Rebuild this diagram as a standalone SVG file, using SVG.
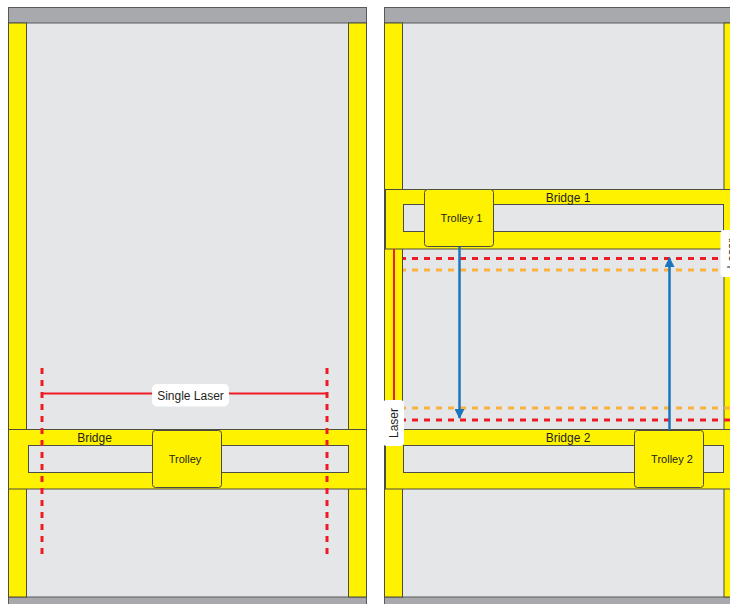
<svg xmlns="http://www.w3.org/2000/svg" width="730" height="604" viewBox="0 0 730 604">
<defs>
<style>
.bg{fill:#e5e6e8;stroke:#6d6e71;stroke-width:1}
.bar{fill:#a7a9ac;stroke:#58595b;stroke-width:1}
.y{fill:#fff200;stroke:#4d4d3f;stroke-width:1}
.in{fill:#e5e6e8;stroke:#4d4d4d;stroke-width:1}
.tr{fill:#fff200;stroke:#4d4d3f;stroke-width:1}
.t{font-family:"Liberation Sans",Arial,sans-serif;fill:#231f20;text-anchor:middle}
.rd{stroke:#ed1c24;stroke-width:3;stroke-dasharray:6 6;fill:none}
.od{stroke:#fbb040;stroke-width:3;stroke-dasharray:6 6;fill:none}
.rs{stroke:#ed1c24;stroke-width:2;fill:none}
.bl{stroke:#1b75bc;stroke-width:2.5;fill:none}
.lbl{fill:#ffffff}
</style>
<marker id="ah" viewBox="0 0 10 10" refX="9" refY="5" markerWidth="4" markerHeight="4" orient="auto" markerUnits="strokeWidth">
<path d="M0,0 L10,5 L0,10 z" fill="#1b75bc"/>
</marker>
</defs>

<g id="left-panel">
<rect class="bg" x="8.5" y="7.5" width="358" height="597"/>
<rect class="bar" x="8.5" y="7.5" width="358" height="15.5"/>
<rect class="bar" x="8.5" y="597" width="358" height="8"/>
<rect class="y" x="8.5" y="23" width="18" height="574"/>
<rect class="y" x="348.5" y="23" width="18" height="574"/>
</g>

<g id="bridge">
<rect class="y" x="8.5" y="429.5" width="358" height="59.5"/>
<rect class="in" x="28.5" y="445.5" width="320" height="27"/>
<text class="t" x="94.5" y="441.5" font-size="12">Bridge</text>
</g>

<g id="trolley">
<rect class="tr" x="152.5" y="430.5" width="69" height="57" rx="3"/>
<text class="t" x="185" y="463" font-size="11">Trolley</text>
</g>

<g id="right-panel">
<rect class="bg" x="384.5" y="7.5" width="358" height="597"/>
<rect class="bar" x="384.5" y="7.5" width="358" height="15.5"/>
<rect class="bar" x="384.5" y="597" width="358" height="8"/>
<rect class="y" x="384.5" y="23" width="18" height="574"/>
<rect class="y" x="724" y="23" width="18" height="574"/>
</g>

<g id="bridge1">
<rect class="y" x="385.5" y="189.5" width="358" height="59.5"/>
<rect class="in" x="403.5" y="204.5" width="320" height="27"/>
<text class="t" x="568" y="201.5" font-size="12">Bridge 1</text>
</g>

<g id="bridge2">
<rect class="y" x="385.5" y="429.5" width="358" height="59.5"/>
<rect class="in" x="403.5" y="445.5" width="320" height="27"/>
<text class="t" x="568" y="441.5" font-size="12">Bridge 2</text>
</g>

<g id="trolley1">
<rect class="tr" x="424.5" y="189.5" width="69" height="57" rx="3"/>
<text class="t" x="461.5" y="222" font-size="11">Trolley 1</text>
</g>

<g id="trolley2">
<rect class="tr" x="634.5" y="430.5" width="69" height="57" rx="3"/>
<text class="t" x="672" y="463" font-size="11">Trolley 2</text>
</g>

<g id="connectors">
<line class="rd" x1="42" y1="368" x2="42" y2="554"/>
<line class="rd" x1="327" y1="368" x2="327" y2="554"/>
<line class="rs" x1="42" y1="393.5" x2="327" y2="393.5"/>
<line class="rs" x1="394" y1="249" x2="394" y2="420"/>
<line class="rd" x1="403" y1="258.5" x2="730" y2="258.5" stroke-dashoffset="3"/>
<line class="od" x1="403" y1="270" x2="730" y2="270" stroke-dashoffset="3"/>
<line class="od" x1="403" y1="408" x2="730" y2="408" stroke-dashoffset="3"/>
<line class="rd" x1="403" y1="420" x2="730" y2="420" stroke-dashoffset="3"/>
<line class="bl" x1="459.5" y1="247" x2="459.5" y2="418" marker-end="url(#ah)"/>
<line class="bl" x1="669.5" y1="430" x2="669.5" y2="258" marker-end="url(#ah)"/>
</g>

<g id="label-single-laser">
<rect class="lbl" x="152" y="384" width="77" height="22.5" rx="5"/>
<text class="t" x="190.5" y="399.5" font-size="12">Single Laser</text>
</g>

<g id="label-laser-left">
<rect class="lbl" x="383" y="400" width="21" height="46" rx="4"/>
<text class="t" transform="translate(397.5,423) rotate(-90)" font-size="12">Laser</text>
</g>

<g id="label-laser-right">
<rect class="lbl" x="720.5" y="230" width="22" height="47" rx="4"/>
<text class="t" transform="translate(735.5,253.5) rotate(-90)" font-size="12">Laser</text>
</g>
</svg>
